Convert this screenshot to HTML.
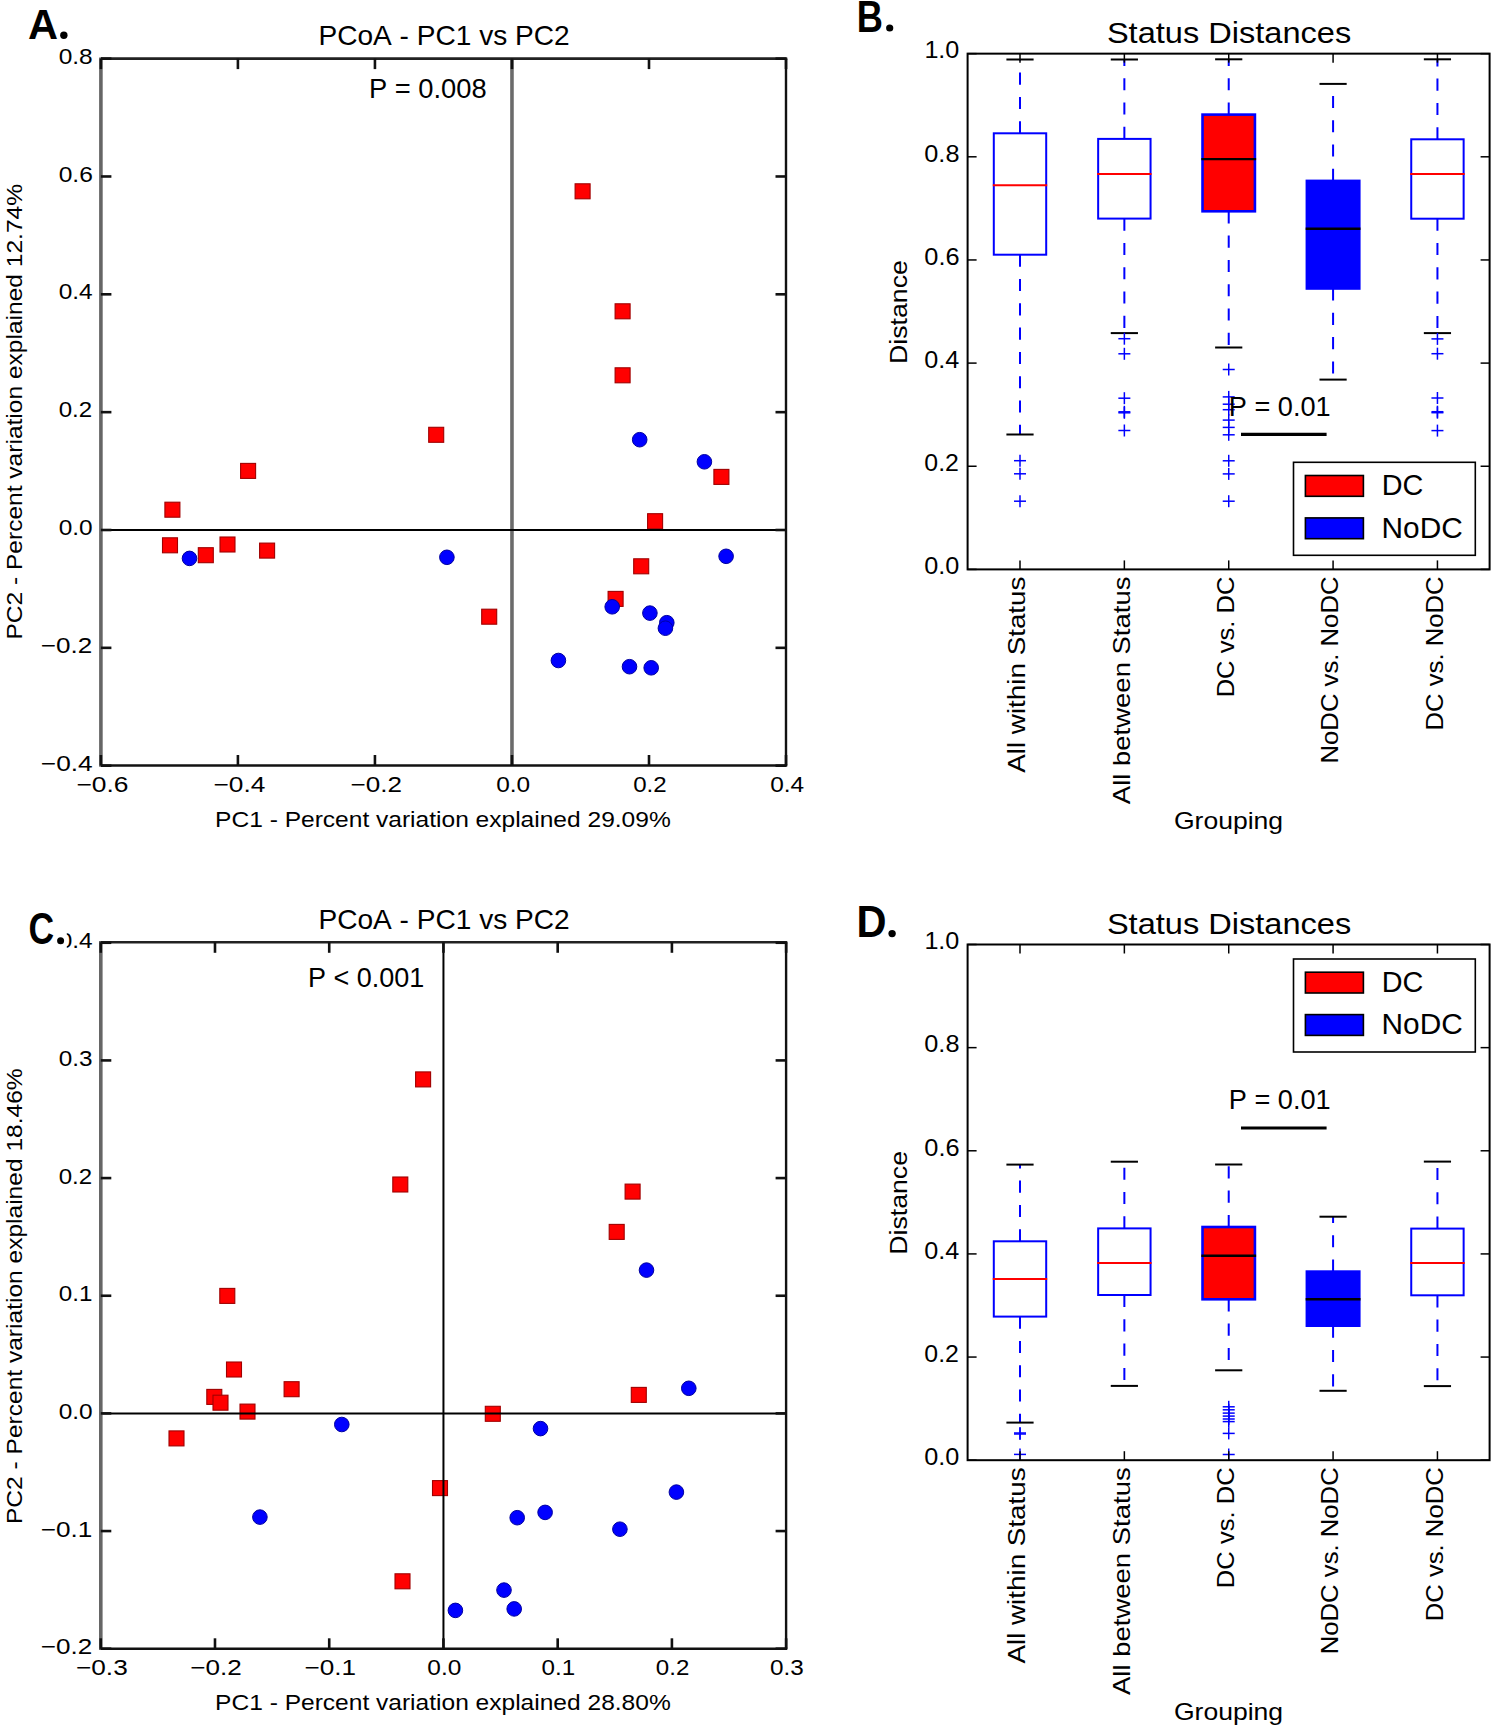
<!DOCTYPE html>
<html><head><meta charset="utf-8"><style>
html,body{margin:0;padding:0;background:#fff;}
body{width:1495px;height:1725px;overflow:hidden;}
svg{display:block;}
text{font-family:"Liberation Sans", sans-serif;font-kerning:none;}
</style></head><body>
<svg width="1495" height="1725" viewBox="0 0 1495 1725">
<rect x="0" y="0" width="1495" height="1725" fill="#fff"/>
<rect x="428.7" y="427.3" width="15" height="15" fill="#ff0000" stroke="#a00000" stroke-width="1.1"/>
<rect x="240.6" y="463.4" width="15" height="15" fill="#ff0000" stroke="#a00000" stroke-width="1.1"/>
<rect x="164.9" y="502.2" width="15" height="15" fill="#ff0000" stroke="#a00000" stroke-width="1.1"/>
<rect x="162.5" y="537.8" width="15" height="15" fill="#ff0000" stroke="#a00000" stroke-width="1.1"/>
<rect x="198.3" y="547.7" width="15" height="15" fill="#ff0000" stroke="#a00000" stroke-width="1.1"/>
<rect x="220" y="537" width="15" height="15" fill="#ff0000" stroke="#a00000" stroke-width="1.1"/>
<rect x="259.6" y="543.1" width="15" height="15" fill="#ff0000" stroke="#a00000" stroke-width="1.1"/>
<rect x="481.7" y="609.2" width="15" height="15" fill="#ff0000" stroke="#a00000" stroke-width="1.1"/>
<rect x="575.1" y="183.8" width="15" height="15" fill="#ff0000" stroke="#a00000" stroke-width="1.1"/>
<rect x="615.1" y="303.8" width="15" height="15" fill="#ff0000" stroke="#a00000" stroke-width="1.1"/>
<rect x="615.1" y="367.8" width="15" height="15" fill="#ff0000" stroke="#a00000" stroke-width="1.1"/>
<rect x="713.9" y="469.4" width="15" height="15" fill="#ff0000" stroke="#a00000" stroke-width="1.1"/>
<rect x="647.6" y="513.7" width="15" height="15" fill="#ff0000" stroke="#a00000" stroke-width="1.1"/>
<rect x="633.7" y="558.8" width="15" height="15" fill="#ff0000" stroke="#a00000" stroke-width="1.1"/>
<rect x="608.1" y="591.4" width="15" height="15" fill="#ff0000" stroke="#a00000" stroke-width="1.1"/>
<circle cx="189.5" cy="558.4" r="7.3" fill="#0000ff" stroke="#0000a0" stroke-width="1"/>
<circle cx="446.9" cy="557.3" r="7.3" fill="#0000ff" stroke="#0000a0" stroke-width="1"/>
<circle cx="639.7" cy="439.7" r="7.3" fill="#0000ff" stroke="#0000a0" stroke-width="1"/>
<circle cx="704.4" cy="461.8" r="7.3" fill="#0000ff" stroke="#0000a0" stroke-width="1"/>
<circle cx="726.1" cy="556.3" r="7.3" fill="#0000ff" stroke="#0000a0" stroke-width="1"/>
<circle cx="612.2" cy="606.8" r="7.3" fill="#0000ff" stroke="#0000a0" stroke-width="1"/>
<circle cx="649.9" cy="613.1" r="7.3" fill="#0000ff" stroke="#0000a0" stroke-width="1"/>
<circle cx="666.8" cy="622.7" r="7.3" fill="#0000ff" stroke="#0000a0" stroke-width="1"/>
<circle cx="665.4" cy="628.2" r="7.3" fill="#0000ff" stroke="#0000a0" stroke-width="1"/>
<circle cx="558.4" cy="660.5" r="7.3" fill="#0000ff" stroke="#0000a0" stroke-width="1"/>
<circle cx="629.5" cy="666.7" r="7.3" fill="#0000ff" stroke="#0000a0" stroke-width="1"/>
<circle cx="651.2" cy="667.8" r="7.3" fill="#0000ff" stroke="#0000a0" stroke-width="1"/>
<line x1="511.97" y1="58.6" x2="511.97" y2="765.5" stroke="#6b6b6b" stroke-width="3.6"/>
<line x1="100.9" y1="530" x2="786" y2="530" stroke="#000" stroke-width="2"/>
<line x1="100.9" y1="57.4" x2="100.9" y2="766.7" stroke="#666" stroke-width="3.6"/>
<line x1="786" y1="58.6" x2="786" y2="765.5" stroke="#111" stroke-width="2.4"/>
<line x1="100.9" y1="58.6" x2="787.2" y2="58.6" stroke="#222" stroke-width="2.6"/>
<line x1="100.9" y1="765.5" x2="787.2" y2="765.5" stroke="#111" stroke-width="2.6"/>
<line x1="100.88" y1="58.6" x2="100.88" y2="69.1" stroke="#111" stroke-width="2.6"/>
<line x1="100.88" y1="765.5" x2="100.88" y2="755" stroke="#111" stroke-width="2.6"/>
<line x1="237.91" y1="58.6" x2="237.91" y2="69.1" stroke="#111" stroke-width="2.6"/>
<line x1="237.91" y1="765.5" x2="237.91" y2="755" stroke="#111" stroke-width="2.6"/>
<line x1="374.94" y1="58.6" x2="374.94" y2="69.1" stroke="#111" stroke-width="2.6"/>
<line x1="374.94" y1="765.5" x2="374.94" y2="755" stroke="#111" stroke-width="2.6"/>
<line x1="511.97" y1="58.6" x2="511.97" y2="69.1" stroke="#111" stroke-width="2.6"/>
<line x1="511.97" y1="765.5" x2="511.97" y2="755" stroke="#111" stroke-width="2.6"/>
<line x1="649" y1="58.6" x2="649" y2="69.1" stroke="#111" stroke-width="2.6"/>
<line x1="649" y1="765.5" x2="649" y2="755" stroke="#111" stroke-width="2.6"/>
<line x1="786.03" y1="58.6" x2="786.03" y2="69.1" stroke="#111" stroke-width="2.6"/>
<line x1="786.03" y1="765.5" x2="786.03" y2="755" stroke="#111" stroke-width="2.6"/>
<line x1="100.9" y1="58.64" x2="111.4" y2="58.64" stroke="#111" stroke-width="2.6"/>
<line x1="786" y1="58.64" x2="775.5" y2="58.64" stroke="#111" stroke-width="2.6"/>
<line x1="100.9" y1="176.48" x2="111.4" y2="176.48" stroke="#111" stroke-width="2.6"/>
<line x1="786" y1="176.48" x2="775.5" y2="176.48" stroke="#111" stroke-width="2.6"/>
<line x1="100.9" y1="294.32" x2="111.4" y2="294.32" stroke="#111" stroke-width="2.6"/>
<line x1="786" y1="294.32" x2="775.5" y2="294.32" stroke="#111" stroke-width="2.6"/>
<line x1="100.9" y1="412.16" x2="111.4" y2="412.16" stroke="#111" stroke-width="2.6"/>
<line x1="786" y1="412.16" x2="775.5" y2="412.16" stroke="#111" stroke-width="2.6"/>
<line x1="100.9" y1="530" x2="111.4" y2="530" stroke="#111" stroke-width="2.6"/>
<line x1="786" y1="530" x2="775.5" y2="530" stroke="#111" stroke-width="2.6"/>
<line x1="100.9" y1="647.84" x2="111.4" y2="647.84" stroke="#111" stroke-width="2.6"/>
<line x1="786" y1="647.84" x2="775.5" y2="647.84" stroke="#111" stroke-width="2.6"/>
<line x1="100.9" y1="765.68" x2="111.4" y2="765.68" stroke="#111" stroke-width="2.6"/>
<line x1="786" y1="765.68" x2="775.5" y2="765.68" stroke="#111" stroke-width="2.6"/>
<text transform="translate(58.71 63.8) scale(1.1148 1)" font-size="21.97" fill="#000">0.8</text>
<text transform="translate(58.7 181.64) scale(1.1193 1)" font-size="21.97" fill="#000">0.6</text>
<text transform="translate(58.71 299.48) scale(1.1121 1)" font-size="21.97" fill="#000">0.4</text>
<text transform="translate(58.72 417.32) scale(1.0962 1)" font-size="21.97" fill="#000">0.2</text>
<text transform="translate(58.71 535.16) scale(1.1126 1)" font-size="21.97" fill="#000">0.0</text>
<text transform="translate(40.82 653) scale(1.1868 1)" font-size="21.97" fill="#000">−0.2</text>
<text transform="translate(40.81 770.84) scale(1.1969 1)" font-size="21.97" fill="#000">−0.4</text>
<text transform="translate(76.4 792.44) scale(1.2026 1)" font-size="21.97" fill="#000">−0.6</text>
<text transform="translate(213.43 792.44) scale(1.1969 1)" font-size="21.97" fill="#000">−0.4</text>
<text transform="translate(350.47 792.44) scale(1.1868 1)" font-size="21.97" fill="#000">−0.2</text>
<text transform="translate(496.17 792.44) scale(1.1126 1)" font-size="21.97" fill="#000">0.0</text>
<text transform="translate(633.22 792.44) scale(1.0962 1)" font-size="21.97" fill="#000">0.2</text>
<text transform="translate(770.23 792.44) scale(1.1121 1)" font-size="21.97" fill="#000">0.4</text>
<text transform="translate(215.1 826.85) scale(1.1549 1)" font-size="21.26" fill="#000">PC1 - Percent variation explained 29.09%</text>
<text transform="translate(21.65 639.6) rotate(-90) scale(1.1549 1)" font-size="21.26" fill="#000">PC2 - Percent variation explained 12.74%</text>
<text transform="translate(318.46 45.1) scale(1.0243 1)" font-size="27.42" fill="#000">PCoA - PC1 vs PC2</text>
<rect x="415.6" y="1071.9" width="15" height="15" fill="#ff0000" stroke="#a00000" stroke-width="1.1"/>
<rect x="392.8" y="1177" width="15" height="15" fill="#ff0000" stroke="#a00000" stroke-width="1.1"/>
<rect x="219.8" y="1288.4" width="15" height="15" fill="#ff0000" stroke="#a00000" stroke-width="1.1"/>
<rect x="226.5" y="1362" width="15" height="15" fill="#ff0000" stroke="#a00000" stroke-width="1.1"/>
<rect x="284.1" y="1381.7" width="15" height="15" fill="#ff0000" stroke="#a00000" stroke-width="1.1"/>
<rect x="206.8" y="1389.4" width="15" height="15" fill="#ff0000" stroke="#a00000" stroke-width="1.1"/>
<rect x="213" y="1395.2" width="15" height="15" fill="#ff0000" stroke="#a00000" stroke-width="1.1"/>
<rect x="240" y="1404.1" width="15" height="15" fill="#ff0000" stroke="#a00000" stroke-width="1.1"/>
<rect x="169" y="1430.9" width="15" height="15" fill="#ff0000" stroke="#a00000" stroke-width="1.1"/>
<rect x="432.5" y="1480.6" width="15" height="15" fill="#ff0000" stroke="#a00000" stroke-width="1.1"/>
<rect x="395" y="1573.8" width="15" height="15" fill="#ff0000" stroke="#a00000" stroke-width="1.1"/>
<rect x="625.1" y="1184.1" width="15" height="15" fill="#ff0000" stroke="#a00000" stroke-width="1.1"/>
<rect x="609.2" y="1224.4" width="15" height="15" fill="#ff0000" stroke="#a00000" stroke-width="1.1"/>
<rect x="631.3" y="1387.4" width="15" height="15" fill="#ff0000" stroke="#a00000" stroke-width="1.1"/>
<rect x="485.3" y="1406.3" width="15" height="15" fill="#ff0000" stroke="#a00000" stroke-width="1.1"/>
<circle cx="341.8" cy="1424.5" r="7.3" fill="#0000ff" stroke="#0000a0" stroke-width="1"/>
<circle cx="259.9" cy="1517.1" r="7.3" fill="#0000ff" stroke="#0000a0" stroke-width="1"/>
<circle cx="676.4" cy="1492.1" r="7.3" fill="#0000ff" stroke="#0000a0" stroke-width="1"/>
<circle cx="517.2" cy="1517.7" r="7.3" fill="#0000ff" stroke="#0000a0" stroke-width="1"/>
<circle cx="545.1" cy="1512.4" r="7.3" fill="#0000ff" stroke="#0000a0" stroke-width="1"/>
<circle cx="619.9" cy="1529.2" r="7.3" fill="#0000ff" stroke="#0000a0" stroke-width="1"/>
<circle cx="504" cy="1590.1" r="7.3" fill="#0000ff" stroke="#0000a0" stroke-width="1"/>
<circle cx="455.4" cy="1610.4" r="7.3" fill="#0000ff" stroke="#0000a0" stroke-width="1"/>
<circle cx="514.2" cy="1608.9" r="7.3" fill="#0000ff" stroke="#0000a0" stroke-width="1"/>
<circle cx="646.5" cy="1270.1" r="7.3" fill="#0000ff" stroke="#0000a0" stroke-width="1"/>
<circle cx="688.8" cy="1388.3" r="7.3" fill="#0000ff" stroke="#0000a0" stroke-width="1"/>
<circle cx="540.5" cy="1428.6" r="7.3" fill="#0000ff" stroke="#0000a0" stroke-width="1"/>
<line x1="443.45" y1="942.3" x2="443.45" y2="1648.8" stroke="#000" stroke-width="2"/>
<line x1="100.8" y1="1413.4" x2="786.1" y2="1413.4" stroke="#000" stroke-width="2"/>
<line x1="100.8" y1="941.1" x2="100.8" y2="1650" stroke="#666" stroke-width="3.6"/>
<line x1="786.1" y1="942.3" x2="786.1" y2="1648.8" stroke="#111" stroke-width="2.4"/>
<line x1="100.8" y1="942.3" x2="787.3" y2="942.3" stroke="#222" stroke-width="2.6"/>
<line x1="100.8" y1="1648.8" x2="787.3" y2="1648.8" stroke="#111" stroke-width="2.6"/>
<line x1="100.76" y1="942.3" x2="100.76" y2="952.8" stroke="#111" stroke-width="2.6"/>
<line x1="100.76" y1="1648.8" x2="100.76" y2="1638.3" stroke="#111" stroke-width="2.6"/>
<line x1="214.99" y1="942.3" x2="214.99" y2="952.8" stroke="#111" stroke-width="2.6"/>
<line x1="214.99" y1="1648.8" x2="214.99" y2="1638.3" stroke="#111" stroke-width="2.6"/>
<line x1="329.22" y1="942.3" x2="329.22" y2="952.8" stroke="#111" stroke-width="2.6"/>
<line x1="329.22" y1="1648.8" x2="329.22" y2="1638.3" stroke="#111" stroke-width="2.6"/>
<line x1="443.45" y1="942.3" x2="443.45" y2="952.8" stroke="#111" stroke-width="2.6"/>
<line x1="443.45" y1="1648.8" x2="443.45" y2="1638.3" stroke="#111" stroke-width="2.6"/>
<line x1="557.68" y1="942.3" x2="557.68" y2="952.8" stroke="#111" stroke-width="2.6"/>
<line x1="557.68" y1="1648.8" x2="557.68" y2="1638.3" stroke="#111" stroke-width="2.6"/>
<line x1="671.91" y1="942.3" x2="671.91" y2="952.8" stroke="#111" stroke-width="2.6"/>
<line x1="671.91" y1="1648.8" x2="671.91" y2="1638.3" stroke="#111" stroke-width="2.6"/>
<line x1="786.14" y1="942.3" x2="786.14" y2="952.8" stroke="#111" stroke-width="2.6"/>
<line x1="786.14" y1="1648.8" x2="786.14" y2="1638.3" stroke="#111" stroke-width="2.6"/>
<line x1="100.8" y1="942.76" x2="111.3" y2="942.76" stroke="#111" stroke-width="2.6"/>
<line x1="786.1" y1="942.76" x2="775.6" y2="942.76" stroke="#111" stroke-width="2.6"/>
<line x1="100.8" y1="1060.42" x2="111.3" y2="1060.42" stroke="#111" stroke-width="2.6"/>
<line x1="786.1" y1="1060.42" x2="775.6" y2="1060.42" stroke="#111" stroke-width="2.6"/>
<line x1="100.8" y1="1178.08" x2="111.3" y2="1178.08" stroke="#111" stroke-width="2.6"/>
<line x1="786.1" y1="1178.08" x2="775.6" y2="1178.08" stroke="#111" stroke-width="2.6"/>
<line x1="100.8" y1="1295.74" x2="111.3" y2="1295.74" stroke="#111" stroke-width="2.6"/>
<line x1="786.1" y1="1295.74" x2="775.6" y2="1295.74" stroke="#111" stroke-width="2.6"/>
<line x1="100.8" y1="1413.4" x2="111.3" y2="1413.4" stroke="#111" stroke-width="2.6"/>
<line x1="786.1" y1="1413.4" x2="775.6" y2="1413.4" stroke="#111" stroke-width="2.6"/>
<line x1="100.8" y1="1531.06" x2="111.3" y2="1531.06" stroke="#111" stroke-width="2.6"/>
<line x1="786.1" y1="1531.06" x2="775.6" y2="1531.06" stroke="#111" stroke-width="2.6"/>
<line x1="100.8" y1="1648.72" x2="111.3" y2="1648.72" stroke="#111" stroke-width="2.6"/>
<line x1="786.1" y1="1648.72" x2="775.6" y2="1648.72" stroke="#111" stroke-width="2.6"/>
<text transform="translate(58.71 948.42) scale(1.1121 1)" font-size="21.97" fill="#000">0.4</text>
<text transform="translate(58.71 1066.08) scale(1.1063 1)" font-size="21.97" fill="#000">0.3</text>
<text transform="translate(58.72 1183.74) scale(1.0962 1)" font-size="21.97" fill="#000">0.2</text>
<text transform="translate(58.72 1301.4) scale(1.1010 1)" font-size="21.97" fill="#000">0.1</text>
<text transform="translate(58.71 1419.06) scale(1.1126 1)" font-size="21.97" fill="#000">0.0</text>
<text transform="translate(40.82 1536.72) scale(1.1901 1)" font-size="21.97" fill="#000">−0.1</text>
<text transform="translate(40.82 1654.38) scale(1.1868 1)" font-size="21.97" fill="#000">−0.2</text>
<text transform="translate(75.99 1675.34) scale(1.1935 1)" font-size="21.97" fill="#000">−0.3</text>
<text transform="translate(190.22 1675.34) scale(1.1868 1)" font-size="21.97" fill="#000">−0.2</text>
<text transform="translate(304.45 1675.34) scale(1.1901 1)" font-size="21.97" fill="#000">−0.1</text>
<text transform="translate(427.35 1675.34) scale(1.1126 1)" font-size="21.97" fill="#000">0.0</text>
<text transform="translate(541.59 1675.34) scale(1.1010 1)" font-size="21.97" fill="#000">0.1</text>
<text transform="translate(655.83 1675.34) scale(1.0962 1)" font-size="21.97" fill="#000">0.2</text>
<text transform="translate(770.05 1675.34) scale(1.1063 1)" font-size="21.97" fill="#000">0.3</text>
<text transform="translate(215.1 1710.35) scale(1.1549 1)" font-size="21.26" fill="#000">PC1 - Percent variation explained 28.80%</text>
<text transform="translate(21.65 1524) rotate(-90) scale(1.1549 1)" font-size="21.26" fill="#000">PC2 - Percent variation explained 18.46%</text>
<text transform="translate(318.46 929.1) scale(1.0243 1)" font-size="27.42" fill="#000">PCoA - PC1 vs PC2</text>
<line x1="1020" y1="133.3" x2="1020" y2="59.5" stroke="#0000ff" stroke-width="2" stroke-dasharray="12.1 12.2"/>
<line x1="1020" y1="254.7" x2="1020" y2="434.5" stroke="#0000ff" stroke-width="2" stroke-dasharray="12.1 12.2"/>
<line x1="1006.4" y1="59.5" x2="1033.6" y2="59.5" stroke="#000" stroke-width="2"/>
<line x1="1006.4" y1="434.5" x2="1033.6" y2="434.5" stroke="#000" stroke-width="2"/>
<rect x="993.8" y="133.3" width="52.4" height="121.4" fill="none" stroke="#0000ff" stroke-width="2"/>
<line x1="992.8" y1="185.3" x2="1047.2" y2="185.3" stroke="#ff0000" stroke-width="2"/>
<line x1="1014" y1="460.7" x2="1026" y2="460.7" stroke="#0000ff" stroke-width="1.5"/>
<line x1="1020" y1="454.7" x2="1020" y2="466.7" stroke="#0000ff" stroke-width="1.5"/>
<line x1="1014" y1="473.8" x2="1026" y2="473.8" stroke="#0000ff" stroke-width="1.5"/>
<line x1="1020" y1="467.8" x2="1020" y2="479.8" stroke="#0000ff" stroke-width="1.5"/>
<line x1="1014" y1="501.2" x2="1026" y2="501.2" stroke="#0000ff" stroke-width="1.5"/>
<line x1="1020" y1="495.2" x2="1020" y2="507.2" stroke="#0000ff" stroke-width="1.5"/>
<line x1="1124.36" y1="138.9" x2="1124.36" y2="59.5" stroke="#0000ff" stroke-width="2" stroke-dasharray="12.1 12.2"/>
<line x1="1124.36" y1="218.6" x2="1124.36" y2="333.1" stroke="#0000ff" stroke-width="2" stroke-dasharray="12.1 12.2"/>
<line x1="1110.76" y1="59.5" x2="1137.96" y2="59.5" stroke="#000" stroke-width="2"/>
<line x1="1110.76" y1="333.1" x2="1137.96" y2="333.1" stroke="#000" stroke-width="2"/>
<rect x="1098.16" y="138.9" width="52.4" height="79.7" fill="none" stroke="#0000ff" stroke-width="2"/>
<line x1="1097.16" y1="173.9" x2="1151.56" y2="173.9" stroke="#ff0000" stroke-width="2"/>
<line x1="1118.36" y1="338.7" x2="1130.36" y2="338.7" stroke="#0000ff" stroke-width="1.5"/>
<line x1="1124.36" y1="332.7" x2="1124.36" y2="344.7" stroke="#0000ff" stroke-width="1.5"/>
<line x1="1118.36" y1="353.8" x2="1130.36" y2="353.8" stroke="#0000ff" stroke-width="1.5"/>
<line x1="1124.36" y1="347.8" x2="1124.36" y2="359.8" stroke="#0000ff" stroke-width="1.5"/>
<line x1="1118.36" y1="398.2" x2="1130.36" y2="398.2" stroke="#0000ff" stroke-width="1.5"/>
<line x1="1124.36" y1="392.2" x2="1124.36" y2="404.2" stroke="#0000ff" stroke-width="1.5"/>
<line x1="1118.36" y1="411.8" x2="1130.36" y2="411.8" stroke="#0000ff" stroke-width="1.5"/>
<line x1="1124.36" y1="405.8" x2="1124.36" y2="417.8" stroke="#0000ff" stroke-width="1.5"/>
<line x1="1118.36" y1="412.8" x2="1130.36" y2="412.8" stroke="#0000ff" stroke-width="1.5"/>
<line x1="1124.36" y1="406.8" x2="1124.36" y2="418.8" stroke="#0000ff" stroke-width="1.5"/>
<line x1="1118.36" y1="430.5" x2="1130.36" y2="430.5" stroke="#0000ff" stroke-width="1.5"/>
<line x1="1124.36" y1="424.5" x2="1124.36" y2="436.5" stroke="#0000ff" stroke-width="1.5"/>
<line x1="1228.72" y1="114.6" x2="1228.72" y2="59.3" stroke="#0000ff" stroke-width="2" stroke-dasharray="12.1 12.2"/>
<line x1="1228.72" y1="211.3" x2="1228.72" y2="347.5" stroke="#0000ff" stroke-width="2" stroke-dasharray="12.1 12.2"/>
<line x1="1215.12" y1="59.3" x2="1242.32" y2="59.3" stroke="#000" stroke-width="2"/>
<line x1="1215.12" y1="347.5" x2="1242.32" y2="347.5" stroke="#000" stroke-width="2"/>
<rect x="1202.52" y="114.6" width="52.4" height="96.7" fill="#ff0000" stroke="#0000ff" stroke-width="2.6"/>
<line x1="1201.32" y1="159.1" x2="1256.12" y2="159.1" stroke="#000" stroke-width="2.4"/>
<line x1="1222.72" y1="369.5" x2="1234.72" y2="369.5" stroke="#0000ff" stroke-width="1.5"/>
<line x1="1228.72" y1="363.5" x2="1228.72" y2="375.5" stroke="#0000ff" stroke-width="1.5"/>
<line x1="1222.72" y1="396.9" x2="1234.72" y2="396.9" stroke="#0000ff" stroke-width="1.5"/>
<line x1="1228.72" y1="390.9" x2="1228.72" y2="402.9" stroke="#0000ff" stroke-width="1.5"/>
<line x1="1222.72" y1="404.2" x2="1234.72" y2="404.2" stroke="#0000ff" stroke-width="1.5"/>
<line x1="1228.72" y1="398.2" x2="1228.72" y2="410.2" stroke="#0000ff" stroke-width="1.5"/>
<line x1="1222.72" y1="409.7" x2="1234.72" y2="409.7" stroke="#0000ff" stroke-width="1.5"/>
<line x1="1228.72" y1="403.7" x2="1228.72" y2="415.7" stroke="#0000ff" stroke-width="1.5"/>
<line x1="1222.72" y1="420.1" x2="1234.72" y2="420.1" stroke="#0000ff" stroke-width="1.5"/>
<line x1="1228.72" y1="414.1" x2="1228.72" y2="426.1" stroke="#0000ff" stroke-width="1.5"/>
<line x1="1222.72" y1="427.4" x2="1234.72" y2="427.4" stroke="#0000ff" stroke-width="1.5"/>
<line x1="1228.72" y1="421.4" x2="1228.72" y2="433.4" stroke="#0000ff" stroke-width="1.5"/>
<line x1="1222.72" y1="434.8" x2="1234.72" y2="434.8" stroke="#0000ff" stroke-width="1.5"/>
<line x1="1228.72" y1="428.8" x2="1228.72" y2="440.8" stroke="#0000ff" stroke-width="1.5"/>
<line x1="1222.72" y1="460.8" x2="1234.72" y2="460.8" stroke="#0000ff" stroke-width="1.5"/>
<line x1="1228.72" y1="454.8" x2="1228.72" y2="466.8" stroke="#0000ff" stroke-width="1.5"/>
<line x1="1222.72" y1="473.9" x2="1234.72" y2="473.9" stroke="#0000ff" stroke-width="1.5"/>
<line x1="1228.72" y1="467.9" x2="1228.72" y2="479.9" stroke="#0000ff" stroke-width="1.5"/>
<line x1="1222.72" y1="501.2" x2="1234.72" y2="501.2" stroke="#0000ff" stroke-width="1.5"/>
<line x1="1228.72" y1="495.2" x2="1228.72" y2="507.2" stroke="#0000ff" stroke-width="1.5"/>
<line x1="1333.08" y1="180.9" x2="1333.08" y2="83.9" stroke="#0000ff" stroke-width="2" stroke-dasharray="12.1 12.2"/>
<line x1="1333.08" y1="288.5" x2="1333.08" y2="379.6" stroke="#0000ff" stroke-width="2" stroke-dasharray="12.1 12.2"/>
<line x1="1319.48" y1="83.9" x2="1346.68" y2="83.9" stroke="#000" stroke-width="2"/>
<line x1="1319.48" y1="379.6" x2="1346.68" y2="379.6" stroke="#000" stroke-width="2"/>
<rect x="1306.88" y="180.9" width="52.4" height="107.6" fill="#0000ff" stroke="#0000ff" stroke-width="2.6"/>
<line x1="1305.68" y1="228.7" x2="1360.48" y2="228.7" stroke="#000" stroke-width="2.4"/>
<line x1="1437.44" y1="139.3" x2="1437.44" y2="59.3" stroke="#0000ff" stroke-width="2" stroke-dasharray="12.1 12.2"/>
<line x1="1437.44" y1="218.7" x2="1437.44" y2="333.1" stroke="#0000ff" stroke-width="2" stroke-dasharray="12.1 12.2"/>
<line x1="1423.84" y1="59.3" x2="1451.04" y2="59.3" stroke="#000" stroke-width="2"/>
<line x1="1423.84" y1="333.1" x2="1451.04" y2="333.1" stroke="#000" stroke-width="2"/>
<rect x="1411.24" y="139.3" width="52.4" height="79.4" fill="none" stroke="#0000ff" stroke-width="2"/>
<line x1="1410.24" y1="173.9" x2="1464.64" y2="173.9" stroke="#ff0000" stroke-width="2"/>
<line x1="1431.44" y1="338.9" x2="1443.44" y2="338.9" stroke="#0000ff" stroke-width="1.5"/>
<line x1="1437.44" y1="332.9" x2="1437.44" y2="344.9" stroke="#0000ff" stroke-width="1.5"/>
<line x1="1431.44" y1="353.7" x2="1443.44" y2="353.7" stroke="#0000ff" stroke-width="1.5"/>
<line x1="1437.44" y1="347.7" x2="1437.44" y2="359.7" stroke="#0000ff" stroke-width="1.5"/>
<line x1="1431.44" y1="398" x2="1443.44" y2="398" stroke="#0000ff" stroke-width="1.5"/>
<line x1="1437.44" y1="392" x2="1437.44" y2="404" stroke="#0000ff" stroke-width="1.5"/>
<line x1="1431.44" y1="411.7" x2="1443.44" y2="411.7" stroke="#0000ff" stroke-width="1.5"/>
<line x1="1437.44" y1="405.7" x2="1437.44" y2="417.7" stroke="#0000ff" stroke-width="1.5"/>
<line x1="1431.44" y1="412.7" x2="1443.44" y2="412.7" stroke="#0000ff" stroke-width="1.5"/>
<line x1="1437.44" y1="406.7" x2="1437.44" y2="418.7" stroke="#0000ff" stroke-width="1.5"/>
<line x1="1431.44" y1="430.6" x2="1443.44" y2="430.6" stroke="#0000ff" stroke-width="1.5"/>
<line x1="1437.44" y1="424.6" x2="1437.44" y2="436.6" stroke="#0000ff" stroke-width="1.5"/>
<rect x="967.6" y="53.65" width="522" height="515.75" fill="none" stroke="#000" stroke-width="2"/>
<line x1="967.6" y1="569.4" x2="976.6" y2="569.4" stroke="#000" stroke-width="1.5"/>
<line x1="1489.6" y1="569.4" x2="1480.6" y2="569.4" stroke="#000" stroke-width="1.5"/>
<text transform="translate(924.31 574.15) scale(1.0403 1)" font-size="24.25" fill="#000">0.0</text>
<line x1="967.6" y1="466.25" x2="976.6" y2="466.25" stroke="#000" stroke-width="1.5"/>
<line x1="1489.6" y1="466.25" x2="1480.6" y2="466.25" stroke="#000" stroke-width="1.5"/>
<text transform="translate(924.32 471) scale(1.0250 1)" font-size="24.25" fill="#000">0.2</text>
<line x1="967.6" y1="363.1" x2="976.6" y2="363.1" stroke="#000" stroke-width="1.5"/>
<line x1="1489.6" y1="363.1" x2="1480.6" y2="363.1" stroke="#000" stroke-width="1.5"/>
<text transform="translate(924.31 367.85) scale(1.0398 1)" font-size="24.25" fill="#000">0.4</text>
<line x1="967.6" y1="259.95" x2="976.6" y2="259.95" stroke="#000" stroke-width="1.5"/>
<line x1="1489.6" y1="259.95" x2="1480.6" y2="259.95" stroke="#000" stroke-width="1.5"/>
<text transform="translate(924.3 264.7) scale(1.0466 1)" font-size="24.25" fill="#000">0.6</text>
<line x1="967.6" y1="156.8" x2="976.6" y2="156.8" stroke="#000" stroke-width="1.5"/>
<line x1="1489.6" y1="156.8" x2="1480.6" y2="156.8" stroke="#000" stroke-width="1.5"/>
<text transform="translate(924.31 161.55) scale(1.0424 1)" font-size="24.25" fill="#000">0.8</text>
<line x1="967.6" y1="53.65" x2="976.6" y2="53.65" stroke="#000" stroke-width="1.5"/>
<line x1="1489.6" y1="53.65" x2="1480.6" y2="53.65" stroke="#000" stroke-width="1.5"/>
<text transform="translate(924.38 58.4) scale(1.0383 1)" font-size="24.25" fill="#000">1.0</text>
<line x1="1020" y1="569.4" x2="1020" y2="560.4" stroke="#000" stroke-width="1.5"/>
<line x1="1020" y1="53.65" x2="1020" y2="62.65" stroke="#000" stroke-width="1.5"/>
<line x1="1124.36" y1="569.4" x2="1124.36" y2="560.4" stroke="#000" stroke-width="1.5"/>
<line x1="1124.36" y1="53.65" x2="1124.36" y2="62.65" stroke="#000" stroke-width="1.5"/>
<line x1="1228.72" y1="569.4" x2="1228.72" y2="560.4" stroke="#000" stroke-width="1.5"/>
<line x1="1228.72" y1="53.65" x2="1228.72" y2="62.65" stroke="#000" stroke-width="1.5"/>
<line x1="1333.08" y1="569.4" x2="1333.08" y2="560.4" stroke="#000" stroke-width="1.5"/>
<line x1="1333.08" y1="53.65" x2="1333.08" y2="62.65" stroke="#000" stroke-width="1.5"/>
<line x1="1437.44" y1="569.4" x2="1437.44" y2="560.4" stroke="#000" stroke-width="1.5"/>
<line x1="1437.44" y1="53.65" x2="1437.44" y2="62.65" stroke="#000" stroke-width="1.5"/>
<rect x="1293.5" y="462.3" width="181.8" height="93" fill="#fff" stroke="#000" stroke-width="1.6"/>
<rect x="1305.4" y="475.5" width="58" height="20.8" fill="#ff0000" stroke="#000" stroke-width="1.6"/>
<rect x="1305.4" y="517.9" width="58" height="20.8" fill="#0000ff" stroke="#000" stroke-width="1.6"/>
<text transform="translate(1381.64 495.4) scale(0.9949 1)" font-size="28.97" fill="#000">DC</text>
<text transform="translate(1381.55 537.6) scale(1.0293 1)" font-size="28.97" fill="#000">NoDC</text>
<text transform="translate(1228.77 415.53) scale(0.9813 1)" font-size="27.68" fill="#000">P = 0.01</text>
<line x1="1241" y1="434.3" x2="1326.6" y2="434.3" stroke="#000" stroke-width="3.2"/>
<text transform="translate(1025.29 772.79) rotate(-90) scale(1.1620 1)" font-size="23.94" fill="#000">All within Status</text>
<text transform="translate(1129.65 804.16) rotate(-90) scale(1.1484 1)" font-size="23.94" fill="#000">All between Status</text>
<text transform="translate(1234 697.37) rotate(-90) scale(1.0552 1)" font-size="24.27" fill="#000">DC vs. DC</text>
<text transform="translate(1338.36 763.47) rotate(-90) scale(1.0587 1)" font-size="24.27" fill="#000">NoDC vs. NoDC</text>
<text transform="translate(1442.72 730.42) rotate(-90) scale(1.0574 1)" font-size="24.27" fill="#000">DC vs. NoDC</text>
<text transform="translate(907.09 363.95) rotate(-90) scale(1.1381 1)" font-size="23.45" fill="#000">Distance</text>
<text transform="translate(1173.92 828.83) scale(1.1504 1)" font-size="23.1" fill="#000">Grouping</text>
<text transform="translate(1106.89 43.11) scale(1.1326 1)" font-size="28.77" fill="#000">Status Distances</text>
<line x1="1020" y1="1241.3" x2="1020" y2="1164.6" stroke="#0000ff" stroke-width="2" stroke-dasharray="12.1 12.2"/>
<line x1="1020" y1="1316.6" x2="1020" y2="1422.6" stroke="#0000ff" stroke-width="2" stroke-dasharray="12.1 12.2"/>
<line x1="1006.4" y1="1164.6" x2="1033.6" y2="1164.6" stroke="#000" stroke-width="2"/>
<line x1="1006.4" y1="1422.6" x2="1033.6" y2="1422.6" stroke="#000" stroke-width="2"/>
<rect x="993.8" y="1241.3" width="52.4" height="75.3" fill="none" stroke="#0000ff" stroke-width="2"/>
<line x1="992.8" y1="1278.9" x2="1047.2" y2="1278.9" stroke="#ff0000" stroke-width="2"/>
<line x1="1014" y1="1433" x2="1026" y2="1433" stroke="#0000ff" stroke-width="1.5"/>
<line x1="1020" y1="1427" x2="1020" y2="1439" stroke="#0000ff" stroke-width="1.5"/>
<line x1="1014" y1="1434" x2="1026" y2="1434" stroke="#0000ff" stroke-width="1.5"/>
<line x1="1020" y1="1428" x2="1020" y2="1440" stroke="#0000ff" stroke-width="1.5"/>
<line x1="1014" y1="1454.4" x2="1026" y2="1454.4" stroke="#0000ff" stroke-width="1.5"/>
<line x1="1020" y1="1448.4" x2="1020" y2="1460.4" stroke="#0000ff" stroke-width="1.5"/>
<line x1="1124.36" y1="1228.4" x2="1124.36" y2="1161.7" stroke="#0000ff" stroke-width="2" stroke-dasharray="12.1 12.2"/>
<line x1="1124.36" y1="1295" x2="1124.36" y2="1385.9" stroke="#0000ff" stroke-width="2" stroke-dasharray="12.1 12.2"/>
<line x1="1110.76" y1="1161.7" x2="1137.96" y2="1161.7" stroke="#000" stroke-width="2"/>
<line x1="1110.76" y1="1385.9" x2="1137.96" y2="1385.9" stroke="#000" stroke-width="2"/>
<rect x="1098.16" y="1228.4" width="52.4" height="66.6" fill="none" stroke="#0000ff" stroke-width="2"/>
<line x1="1097.16" y1="1263" x2="1151.56" y2="1263" stroke="#ff0000" stroke-width="2"/>
<line x1="1228.72" y1="1227" x2="1228.72" y2="1164.5" stroke="#0000ff" stroke-width="2" stroke-dasharray="12.1 12.2"/>
<line x1="1228.72" y1="1299.3" x2="1228.72" y2="1370.3" stroke="#0000ff" stroke-width="2" stroke-dasharray="12.1 12.2"/>
<line x1="1215.12" y1="1164.5" x2="1242.32" y2="1164.5" stroke="#000" stroke-width="2"/>
<line x1="1215.12" y1="1370.3" x2="1242.32" y2="1370.3" stroke="#000" stroke-width="2"/>
<rect x="1202.52" y="1227" width="52.4" height="72.3" fill="#ff0000" stroke="#0000ff" stroke-width="2.6"/>
<line x1="1201.32" y1="1255.8" x2="1256.12" y2="1255.8" stroke="#000" stroke-width="2.4"/>
<line x1="1222.72" y1="1406.8" x2="1234.72" y2="1406.8" stroke="#0000ff" stroke-width="1.5"/>
<line x1="1228.72" y1="1400.8" x2="1228.72" y2="1412.8" stroke="#0000ff" stroke-width="1.5"/>
<line x1="1222.72" y1="1409.8" x2="1234.72" y2="1409.8" stroke="#0000ff" stroke-width="1.5"/>
<line x1="1228.72" y1="1403.8" x2="1228.72" y2="1415.8" stroke="#0000ff" stroke-width="1.5"/>
<line x1="1222.72" y1="1413.1" x2="1234.72" y2="1413.1" stroke="#0000ff" stroke-width="1.5"/>
<line x1="1228.72" y1="1407.1" x2="1228.72" y2="1419.1" stroke="#0000ff" stroke-width="1.5"/>
<line x1="1222.72" y1="1416.1" x2="1234.72" y2="1416.1" stroke="#0000ff" stroke-width="1.5"/>
<line x1="1228.72" y1="1410.1" x2="1228.72" y2="1422.1" stroke="#0000ff" stroke-width="1.5"/>
<line x1="1222.72" y1="1419" x2="1234.72" y2="1419" stroke="#0000ff" stroke-width="1.5"/>
<line x1="1228.72" y1="1413" x2="1228.72" y2="1425" stroke="#0000ff" stroke-width="1.5"/>
<line x1="1222.72" y1="1421.6" x2="1234.72" y2="1421.6" stroke="#0000ff" stroke-width="1.5"/>
<line x1="1228.72" y1="1415.6" x2="1228.72" y2="1427.6" stroke="#0000ff" stroke-width="1.5"/>
<line x1="1222.72" y1="1433.4" x2="1234.72" y2="1433.4" stroke="#0000ff" stroke-width="1.5"/>
<line x1="1228.72" y1="1427.4" x2="1228.72" y2="1439.4" stroke="#0000ff" stroke-width="1.5"/>
<line x1="1222.72" y1="1454.5" x2="1234.72" y2="1454.5" stroke="#0000ff" stroke-width="1.5"/>
<line x1="1228.72" y1="1448.5" x2="1228.72" y2="1460.5" stroke="#0000ff" stroke-width="1.5"/>
<line x1="1333.08" y1="1271.6" x2="1333.08" y2="1216.7" stroke="#0000ff" stroke-width="2" stroke-dasharray="12.1 12.2"/>
<line x1="1333.08" y1="1325.7" x2="1333.08" y2="1390.8" stroke="#0000ff" stroke-width="2" stroke-dasharray="12.1 12.2"/>
<line x1="1319.48" y1="1216.7" x2="1346.68" y2="1216.7" stroke="#000" stroke-width="2"/>
<line x1="1319.48" y1="1390.8" x2="1346.68" y2="1390.8" stroke="#000" stroke-width="2"/>
<rect x="1306.88" y="1271.6" width="52.4" height="54.1" fill="#0000ff" stroke="#0000ff" stroke-width="2.6"/>
<line x1="1305.68" y1="1299.2" x2="1360.48" y2="1299.2" stroke="#000" stroke-width="2.4"/>
<line x1="1437.44" y1="1228.6" x2="1437.44" y2="1161.6" stroke="#0000ff" stroke-width="2" stroke-dasharray="12.1 12.2"/>
<line x1="1437.44" y1="1295.3" x2="1437.44" y2="1386.1" stroke="#0000ff" stroke-width="2" stroke-dasharray="12.1 12.2"/>
<line x1="1423.84" y1="1161.6" x2="1451.04" y2="1161.6" stroke="#000" stroke-width="2"/>
<line x1="1423.84" y1="1386.1" x2="1451.04" y2="1386.1" stroke="#000" stroke-width="2"/>
<rect x="1411.24" y="1228.6" width="52.4" height="66.7" fill="none" stroke="#0000ff" stroke-width="2"/>
<line x1="1410.24" y1="1263.1" x2="1464.64" y2="1263.1" stroke="#ff0000" stroke-width="2"/>
<rect x="967.6" y="944.5" width="522" height="515.7" fill="none" stroke="#000" stroke-width="2"/>
<line x1="967.6" y1="1460.2" x2="976.6" y2="1460.2" stroke="#000" stroke-width="1.5"/>
<line x1="1489.6" y1="1460.2" x2="1480.6" y2="1460.2" stroke="#000" stroke-width="1.5"/>
<text transform="translate(924.31 1464.95) scale(1.0403 1)" font-size="24.25" fill="#000">0.0</text>
<line x1="967.6" y1="1357.06" x2="976.6" y2="1357.06" stroke="#000" stroke-width="1.5"/>
<line x1="1489.6" y1="1357.06" x2="1480.6" y2="1357.06" stroke="#000" stroke-width="1.5"/>
<text transform="translate(924.32 1361.81) scale(1.0250 1)" font-size="24.25" fill="#000">0.2</text>
<line x1="967.6" y1="1253.92" x2="976.6" y2="1253.92" stroke="#000" stroke-width="1.5"/>
<line x1="1489.6" y1="1253.92" x2="1480.6" y2="1253.92" stroke="#000" stroke-width="1.5"/>
<text transform="translate(924.31 1258.67) scale(1.0398 1)" font-size="24.25" fill="#000">0.4</text>
<line x1="967.6" y1="1150.78" x2="976.6" y2="1150.78" stroke="#000" stroke-width="1.5"/>
<line x1="1489.6" y1="1150.78" x2="1480.6" y2="1150.78" stroke="#000" stroke-width="1.5"/>
<text transform="translate(924.3 1155.53) scale(1.0466 1)" font-size="24.25" fill="#000">0.6</text>
<line x1="967.6" y1="1047.64" x2="976.6" y2="1047.64" stroke="#000" stroke-width="1.5"/>
<line x1="1489.6" y1="1047.64" x2="1480.6" y2="1047.64" stroke="#000" stroke-width="1.5"/>
<text transform="translate(924.31 1052.39) scale(1.0424 1)" font-size="24.25" fill="#000">0.8</text>
<line x1="967.6" y1="944.5" x2="976.6" y2="944.5" stroke="#000" stroke-width="1.5"/>
<line x1="1489.6" y1="944.5" x2="1480.6" y2="944.5" stroke="#000" stroke-width="1.5"/>
<text transform="translate(924.38 949.25) scale(1.0383 1)" font-size="24.25" fill="#000">1.0</text>
<line x1="1020" y1="1460.2" x2="1020" y2="1451.2" stroke="#000" stroke-width="1.5"/>
<line x1="1020" y1="944.5" x2="1020" y2="953.5" stroke="#000" stroke-width="1.5"/>
<line x1="1124.36" y1="1460.2" x2="1124.36" y2="1451.2" stroke="#000" stroke-width="1.5"/>
<line x1="1124.36" y1="944.5" x2="1124.36" y2="953.5" stroke="#000" stroke-width="1.5"/>
<line x1="1228.72" y1="1460.2" x2="1228.72" y2="1451.2" stroke="#000" stroke-width="1.5"/>
<line x1="1228.72" y1="944.5" x2="1228.72" y2="953.5" stroke="#000" stroke-width="1.5"/>
<line x1="1333.08" y1="1460.2" x2="1333.08" y2="1451.2" stroke="#000" stroke-width="1.5"/>
<line x1="1333.08" y1="944.5" x2="1333.08" y2="953.5" stroke="#000" stroke-width="1.5"/>
<line x1="1437.44" y1="1460.2" x2="1437.44" y2="1451.2" stroke="#000" stroke-width="1.5"/>
<line x1="1437.44" y1="944.5" x2="1437.44" y2="953.5" stroke="#000" stroke-width="1.5"/>
<rect x="1293.5" y="959" width="181.8" height="93" fill="#fff" stroke="#000" stroke-width="1.6"/>
<rect x="1305.4" y="972.2" width="58" height="20.8" fill="#ff0000" stroke="#000" stroke-width="1.6"/>
<rect x="1305.4" y="1014.6" width="58" height="20.8" fill="#0000ff" stroke="#000" stroke-width="1.6"/>
<text transform="translate(1381.64 992.1) scale(0.9949 1)" font-size="28.97" fill="#000">DC</text>
<text transform="translate(1381.55 1034.3) scale(1.0293 1)" font-size="28.97" fill="#000">NoDC</text>
<text transform="translate(1228.77 1108.93) scale(0.9813 1)" font-size="27.68" fill="#000">P = 0.01</text>
<line x1="1241" y1="1128" x2="1326.6" y2="1128" stroke="#000" stroke-width="3.2"/>
<text transform="translate(1025.29 1663.59) rotate(-90) scale(1.1620 1)" font-size="23.94" fill="#000">All within Status</text>
<text transform="translate(1129.65 1694.96) rotate(-90) scale(1.1484 1)" font-size="23.94" fill="#000">All between Status</text>
<text transform="translate(1234 1588.17) rotate(-90) scale(1.0552 1)" font-size="24.27" fill="#000">DC vs. DC</text>
<text transform="translate(1338.36 1654.27) rotate(-90) scale(1.0587 1)" font-size="24.27" fill="#000">NoDC vs. NoDC</text>
<text transform="translate(1442.72 1621.22) rotate(-90) scale(1.0574 1)" font-size="24.27" fill="#000">DC vs. NoDC</text>
<text transform="translate(907.09 1254.77) rotate(-90) scale(1.1381 1)" font-size="23.45" fill="#000">Distance</text>
<text transform="translate(1173.92 1719.63) scale(1.1504 1)" font-size="23.1" fill="#000">Grouping</text>
<text transform="translate(1106.89 933.61) scale(1.1326 1)" font-size="28.77" fill="#000">Status Distances</text>
<text transform="translate(27.96 38.7) scale(0.9601 1)" font-size="43.31" font-weight="bold" fill="#000">A</text>
<circle cx="63.85" cy="35.2" r="3.7" fill="#000"/>
<text transform="translate(856.78 31.7) scale(0.8228 1)" font-size="44.04" font-weight="bold" fill="#000">B</text>
<circle cx="889.7" cy="28.0" r="3.6" fill="#000"/>
<text transform="translate(856.42 937.3) scale(0.9504 1)" font-size="43.75" font-weight="bold" fill="#000">D</text>
<circle cx="892.1" cy="933.6" r="3.7" fill="#000"/>
<rect x="24" y="904" width="42.8" height="46" fill="#fff" stroke="none" stroke-width="0"/>
<text transform="translate(28.54 944.07) scale(0.8078 1)" font-size="43.93" font-weight="bold" fill="#000">C</text>
<circle cx="60.6" cy="940.7" r="3.5" fill="#000"/>
<text transform="translate(368.96 97.53) scale(0.9971 1)" font-size="27.4" fill="#000">P = 0.008</text>
<text transform="translate(308.09 986.52) scale(0.9510 1)" font-size="28.39" fill="#000">P &lt; 0.001</text>
</svg>
</body></html>
